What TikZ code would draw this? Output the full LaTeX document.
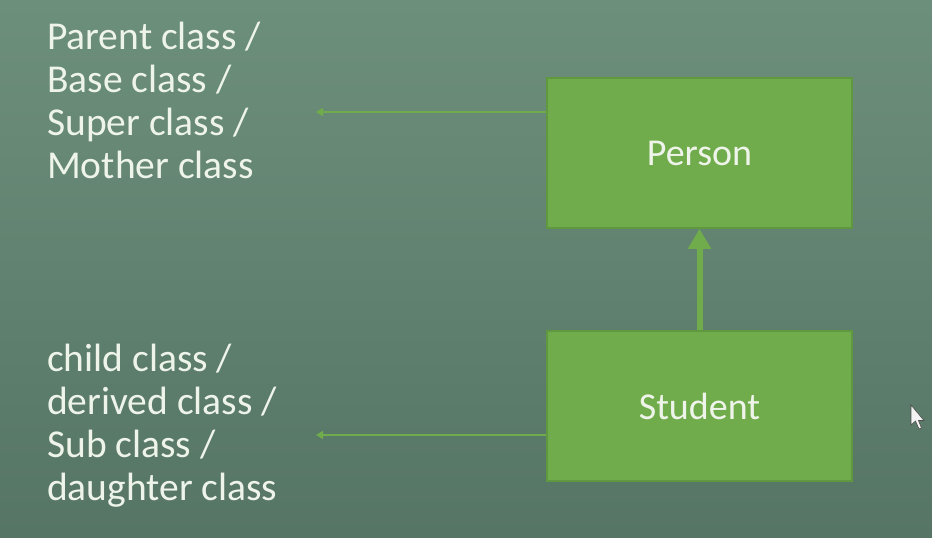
\documentclass[tikz,border=0pt]{standalone}
\usepackage{fontspec}
\setmainfont{Carlito}
\usetikzlibrary{arrows.meta}
\definecolor{bgtop}{HTML}{6C8F7B}
\definecolor{bgmid}{HTML}{678A76}
\definecolor{bgbot}{HTML}{567565}
\definecolor{boxfill}{HTML}{70AC4B}
\definecolor{boxline}{HTML}{5F983E}
\definecolor{txt}{HTML}{EEF4EA}
\definecolor{cursor}{HTML}{F2F2F2}
\tikzset{
  classbox/.style={draw=boxline, line width=1.5pt, fill=boxfill, minimum width=305pt, minimum height=150pt, inner sep=0pt, text=txt, font=\fontsize{38}{43}\selectfont},
  sidetext/.style={anchor=base west, align=left, inner sep=0pt, text=txt, font=\fontsize{39.5}{43}\selectfont},
  pointer/.style={draw=boxfill, line width=1.6pt, -{Triangle[length=7pt, width=8pt]}},
  inherit/.style={draw=boxfill, line width=6pt, -{Triangle[length=20pt, width=22pt]}}
}
\begin{document}
\begin{tikzpicture}[x=1pt, y=-1pt]
\useasboundingbox (0,0) rectangle (932,538);
\shade[top color=bgtop, middle color=bgmid, bottom color=bgbot] (0,0) rectangle (932,538);
\node[classbox] (person) at (699.5,153) {Person};
\node[classbox] (student) at (699.5,406) {Student};
\node[sidetext] (parent) at (47,178) {Parent class /\\Base class /\\Super class /\\Mother class};
\node[sidetext] (child) at (47,500) {child class /\\derived class /\\Sub class /\\daughter class};
\coordinate (pend) at (316,112);
\coordinate (cend) at (316,435);
\draw[pointer] (person.west |- pend) -- (pend);
\draw[pointer] (student.west |- cend) -- (cend);
\draw[inherit] (student.north) -- (person.south);
\fill[cursor, draw=black!70, line width=0.6pt] (911,405) -- (911,425) -- (915.5,421) -- (919,429) -- (921.5,428) -- (918.5,420.5) -- (924,420.5) -- cycle;
\end{tikzpicture}
\end{document}
